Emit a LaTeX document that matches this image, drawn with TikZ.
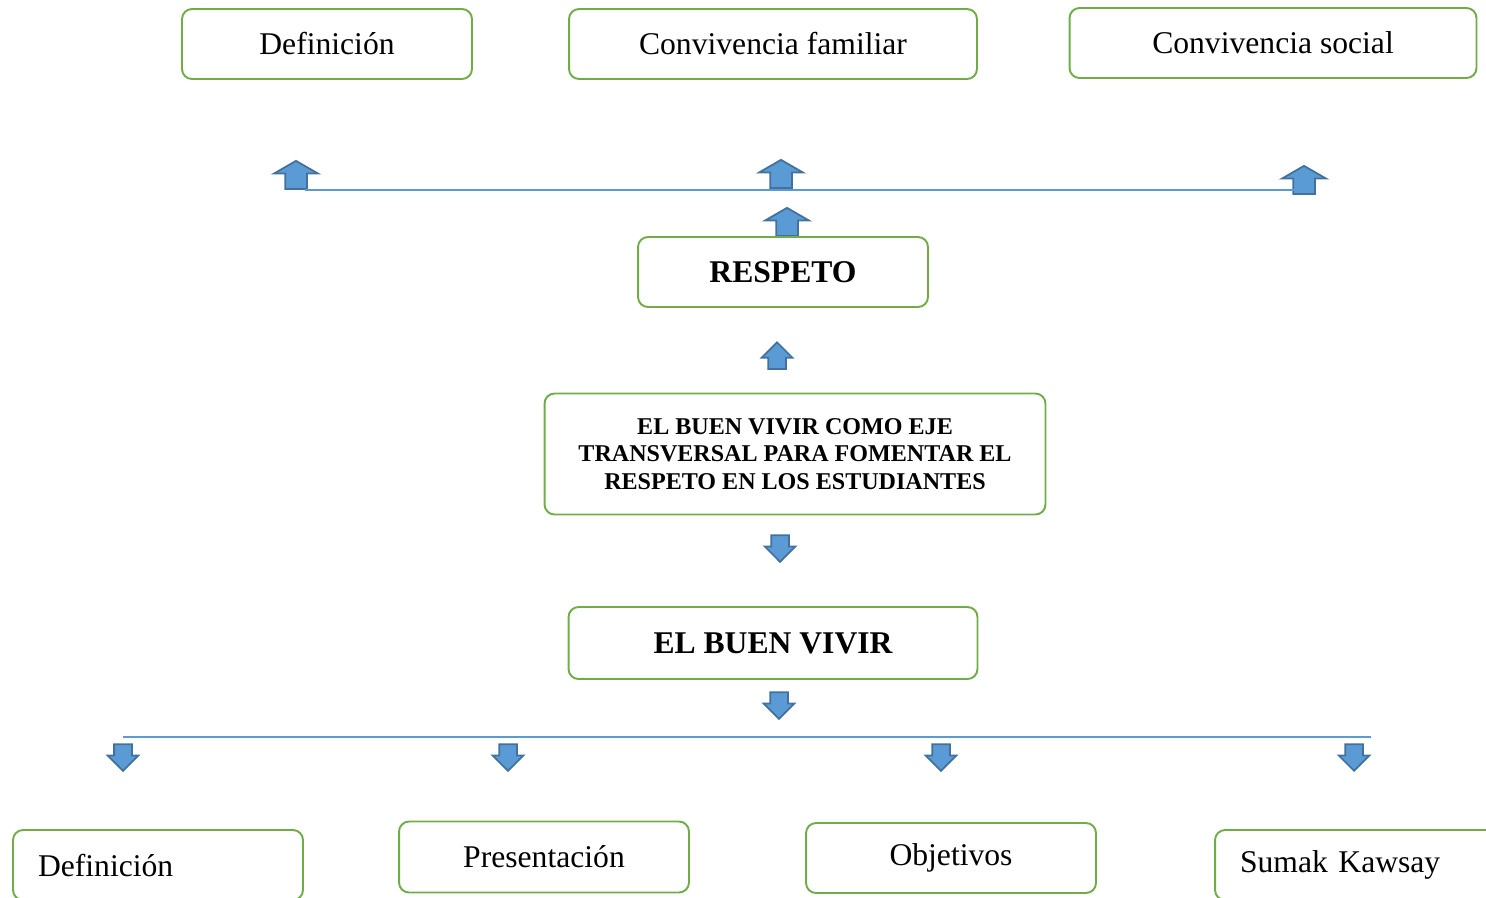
\documentclass[tikz,border=0pt]{standalone}
\usepackage{fontspec}
\setmainfont{Liberation Serif}
\usetikzlibrary{shapes.arrows}
\definecolor{boxgreen}{HTML}{70AD47}
\definecolor{arrowblue}{HTML}{5B9BD5}
\definecolor{arrowedge}{HTML}{41719C}
\begin{document}
\begin{tikzpicture}[x=0.02cm,y=-0.02cm,
	box/.style={draw=boxgreen,line width=1.1pt,rounded corners=0.2cm,minimum height=1.4cm,minimum width=5.8cm,font=\fontsize{18}{22}\selectfont},
	leftbox/.style={box,text width=4.8cm,inner xsep=0.5cm,align=left},
	blockarrow/.style={single arrow,fill=arrowblue,draw=arrowedge,line width=1pt},
	upbig/.style={blockarrow,shape border rotate=90,inner sep=0.2cm,single arrow head extend=0.22cm,single arrow tip angle=120,minimum height=0.44cm},
	upsmall/.style={blockarrow,shape border rotate=90,inner sep=0.16cm,single arrow head extend=0.13cm,single arrow tip angle=90,minimum height=0.48cm},
	downsmall/.style={upsmall,shape border rotate=270},
	link/.style={draw=arrowblue,line width=0.6pt}]
	\useasboundingbox (0,0) rectangle (1486,897);
	\node[box] (defA) at (327,44) {Definición};
	\node[box,minimum width=8.16cm] (famil) at (773,44) {Convivencia familiar};
	\node[box,minimum width=8.14cm] (social) at (1273,43) {Convivencia social};
	\node[upbig] (upA) at (296,178) {};
	\node[upbig] (upB) at (781,177) {};
	\node[upbig] (upC) at (1304,183) {};
	\coordinate (topL) at (305,190);
	\coordinate (topR) at (1300,190);
	\draw[link] (topL) -- (topR);
	\node[upbig] (upR) at (787,225) {};
	\node[box,font=\fontsize{18}{22}\selectfont\bfseries] (respeto) at (783,272) {RESPETO};
	\node[upsmall] (upM) at (777,360) {};
	\node[box,minimum width=10.02cm,minimum height=2.42cm,align=center,font=\fontsize{13.7}{15.6}\selectfont\bfseries] (eje) at (795,454) {EL BUEN VIVIR COMO EJE\\TRANSVERSAL PARA FOMENTAR EL\\RESPETO EN LOS ESTUDIANTES};
	\node[downsmall] (downM) at (780,544) {};
	\node[box,minimum width=8.18cm,minimum height=1.44cm,font=\fontsize{18}{22}\selectfont\bfseries] (buen) at (773,643) {EL BUEN VIVIR};
	\node[downsmall] (downB) at (779,701) {};
	\coordinate (botL) at (123,737);
	\coordinate (botR) at (1371,737);
	\draw[link] (botL) -- (botR);
	\node[downsmall] (dnA) at (123,753) {};
	\node[downsmall] (dnB) at (508,753) {};
	\node[downsmall] (dnC) at (941,753) {};
	\node[downsmall] (dnD) at (1354,753) {};
	\node[leftbox] (defB) at (158,865) {Definición};
	\node[box,minimum height=1.42cm] (present) at (544,857) {Presentación};
	\node[box] (objet) at (951,858) {Objetivos};
	\node[leftbox] (sumak) at (1360,865) {Sumak Kawsay};
\end{tikzpicture}
\end{document}
